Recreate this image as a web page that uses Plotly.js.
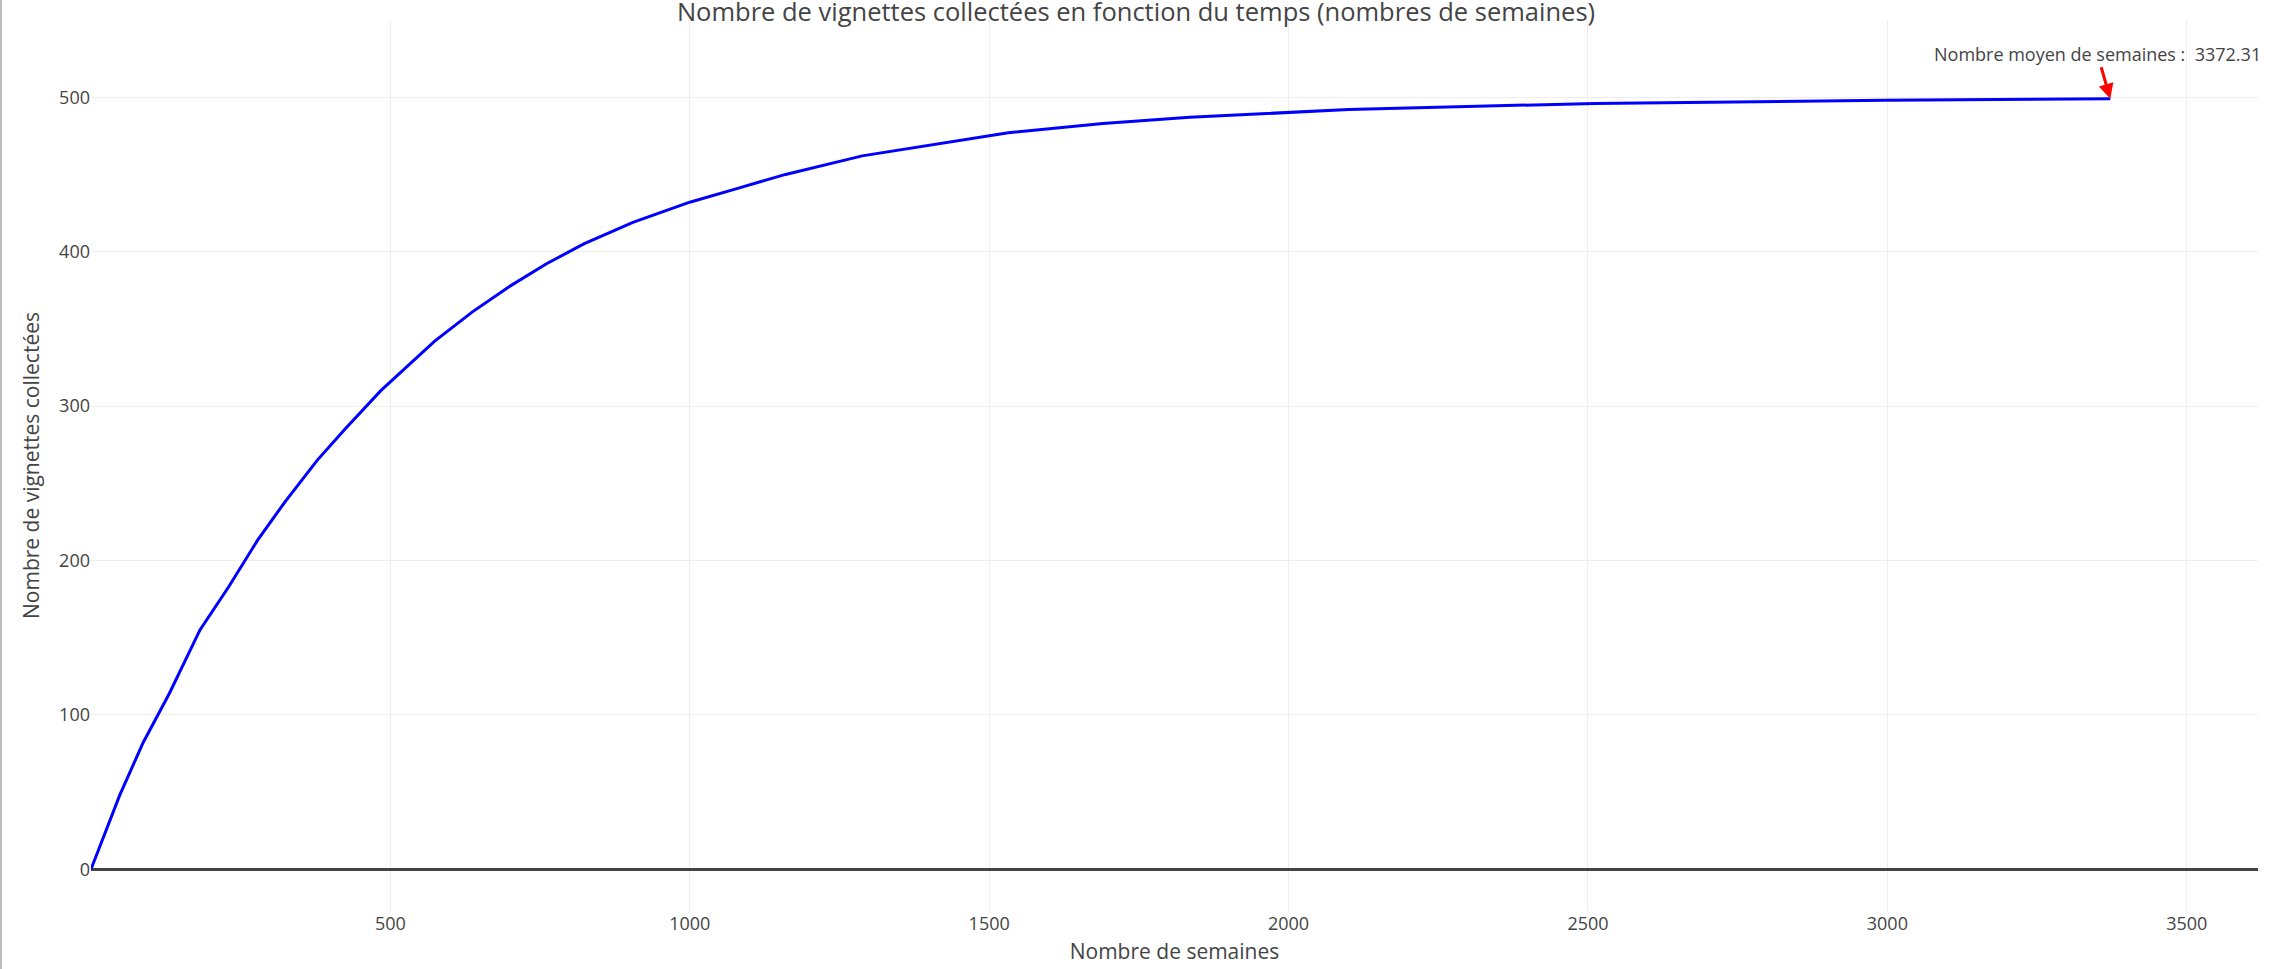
<html>
<head>
<meta charset="utf-8">
<script src="https://cdn.plot.ly/plotly-3.0.1.min.js"></script>
<style>
body{margin:0;}
#plot{width:2270px;height:969px;box-sizing:border-box;border-left:2px solid #bbb;}
</style>
</head>
<body>
<div id="plot"></div>
<script>
let semaines = [0, 48, 87, 131, 182, 230, 278, 324, 378, 424, 484, 574, 637, 697, 760, 823, 905, 1000, 1080, 1160, 1288, 1400, 1532, 1690, 1835, 2100, 2512, 2997, 3372.31];
let vignettes = [0, 48, 82, 114, 155, 183, 213, 238, 265, 285, 310, 342, 361, 377, 392, 405, 419, 432, 441, 450, 462, 469, 477, 483, 487, 492, 496, 498, 499];
let moyenne = 3372.31;

let graph_data = [{
x: semaines,
y: vignettes,
type: 'scatter',
mode: 'lines',
line: {color: 'blue', width: 3},
showlegend: false
}];

let layout = {
width: 2268,
height: 969,
margin: {l: 89, r: 12, t: 20, b: 58},
font: {family: 'Open Sans', color: '#444'},
plot_bgcolor: 'white',
paper_bgcolor: 'white',
title: {
text: 'Nombre de vignettes collectées en fonction du temps (nombres de semaines)',
font: {size: 25.5, color: '#444'},
x: 0.5, xanchor: 'center',
y: 1 - 12/969, yanchor: 'middle'
},
xaxis: {
title: {text: 'Nombre de semaines', font: {size: 21}, standoff: 10},
range: [0, 3619],
tickvals: [500, 1000, 1500, 2000, 2500, 3000, 3500],
tickfont: {size: 18},
gridcolor: '#eee',
zeroline: false,
ticks: '', ticklen: 0
},
yaxis: {
title: {text: 'Nombre de vignettes collectées', font: {size: 21}},
range: [-27, 550],
tickvals: [0, 100, 200, 300, 400, 500],
tickfont: {size: 18},
gridcolor: '#eee',
zeroline: true,
zerolinecolor: '#444',
zerolinewidth: 3
},
annotations: [{
x: moyenne,
y: vignettes[vignettes.length-1],
text: 'Nombre moyen de semaines :  ' + moyenne,
font: {size: 18, color: '#444'},
showarrow: true,
arrowcolor: 'red',
arrowhead: 2,
arrowsize: 1,
arrowwidth: 3,
ax: -13,
ay: -45
}]
};

Plotly.newPlot('plot', graph_data, layout, {displayModeBar: false});
</script>
</body>
</html>
